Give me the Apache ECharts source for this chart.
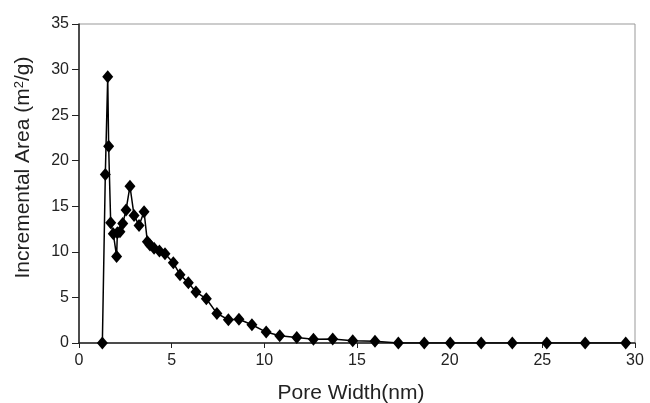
<!DOCTYPE html>
<html><head><meta charset="utf-8">
<script src="https://cdn.jsdelivr.net/npm/echarts@6/dist/echarts.min.js"></script>
<style>html,body{margin:0;padding:0;background:#fff}#c{width:650px;height:403px}</style>
</head><body><div id="c"></div>
<script>
const poreWidth = [1.26,1.42,1.55,1.60,1.71,1.85,2.03,2.07,2.21,2.36,2.54,2.75,2.97,3.24,3.51,3.69,3.83,4.05,4.34,4.64,5.09,5.45,5.90,6.31,6.87,7.44,8.06,8.63,9.33,10.10,10.83,11.75,12.65,13.69,14.77,15.97,17.23,18.63,20.03,21.70,23.38,25.24,27.31,29.50];
const incArea   = [0,18.5,29.2,21.6,13.2,12.0,9.5,12.1,12.2,13.1,14.6,17.2,14.0,12.9,14.4,11.1,10.75,10.4,10.1,9.8,8.8,7.5,6.6,5.6,4.85,3.25,2.55,2.6,2.0,1.2,0.8,0.6,0.4,0.45,0.25,0.2,0,0,0,0,0,0,0,0];
const xTicks = [0,5,10,15,20,25,30];
const yTicks = [0,5,10,15,20,25,30,35];
const chart = echarts.init(document.getElementById('c'));
const font = 'Liberation Sans, Arial, sans-serif';
chart.setOption({
  animation:false,
  grid:{left:79,right:15,top:24,bottom:60,outerBoundsMode:'none',containLabel:false,show:true,borderColor:'#999',borderWidth:1},
  xAxis:{type:'value',min:xTicks[0],max:xTicks[xTicks.length-1],interval:5,
    name:'Pore Width(nm)',nameLocation:'middle',nameGap:40,
    nameTextStyle:{fontFamily:font,fontSize:21,color:'#222',padding:[0,12,0,0]},
    axisLine:{onZero:false,lineStyle:{color:'#222',width:1.5}},
    axisTick:{show:true,length:5,lineStyle:{color:'#222'}},
    axisLabel:{fontFamily:font,fontSize:16,color:'#222',margin:10},
    splitLine:{show:false}},
  yAxis:{type:'value',min:yTicks[0],max:yTicks[yTicks.length-1],interval:5,
    name:'Incremental Area (m{sup|2}/g)',nameLocation:'middle',nameGap:45,
    nameTextStyle:{fontFamily:font,fontSize:21,color:'#222',padding:[0,0,0,32],
      rich:{sup:{fontFamily:font,fontSize:13,color:'#222',verticalAlign:'top',padding:[0,0,8,0]}}},
    axisLine:{show:true,lineStyle:{color:'#222',width:1.5}},
    axisTick:{show:true,length:7,lineStyle:{color:'#222'}},
    axisLabel:{fontFamily:font,fontSize:16,color:'#222',margin:10},
    splitLine:{show:false}},
  series:[{type:'line',data:poreWidth.map((x,i)=>[x,incArea[i]]),
    symbol:'diamond',symbolSize:[11,13],showAllSymbol:true,
    lineStyle:{color:'#000',width:1.5},itemStyle:{color:'#000'}}]
});
</script></body></html>
